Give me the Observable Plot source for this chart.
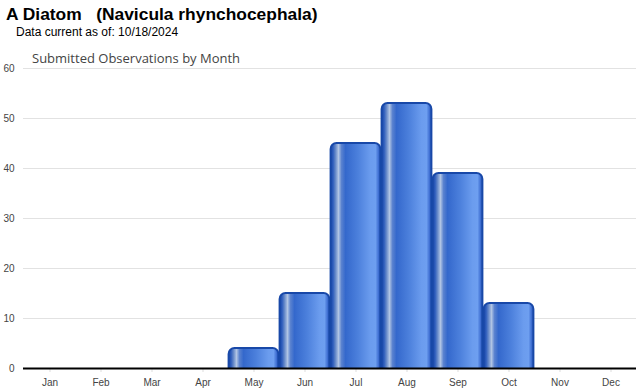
<!DOCTYPE html>
<html>
<head>
<meta charset="utf-8">
<script src="https://cdn.jsdelivr.net/npm/d3@7"></script>
<script src="https://cdn.jsdelivr.net/npm/@observablehq/plot@0.6"></script>
<style>
  html, body { margin: 0; padding: 0; background: #fff; }
  #wrap { position: relative; width: 640px; height: 390px; overflow: hidden; font-family: "Liberation Sans", Arial, sans-serif; }
  #title { position: absolute; left: 6px; top: 4px; font-size: 17.4px; font-weight: bold; color: #000; white-space: pre; }
  #sub { position: absolute; left: 16px; top: 25px; font-size: 12px; color: #000; }
  #ctitle { position: absolute; left: 32px; top: 49px; font-size: 13px; color: #444; font-family: "Open Sans", "DejaVu Sans", sans-serif; font-weight: 400; }
  #chart { position: absolute; left: 0; top: 48px; }
</style>
</head>
<body>
<div id="wrap">
  <div id="title">A Diatom   (Navicula rhynchocephala)</div>
  <div id="sub">Data current as of: 10/18/2024</div>
  <div id="chart"></div>
  <div id="ctitle">Submitted Observations by Month</div>
</div>
<script>
const months = ["Jan","Feb","Mar","Apr","May","Jun","Jul","Aug","Sep","Oct","Nov","Dec"];
const counts = [0, 0, 0, 0, 4, 15, 45, 53, 39, 13, 0, 0];
const yTicks = [0, 10, 20, 30, 40, 50, 60];

const data = months.map((m, i) => ({month: m, count: counts[i]}));
const bars = data.filter(d => d.count > 0);

const plot = Plot.plot({
  width: 640,
  height: 342,
  marginLeft: 23,
  marginRight: 4,
  marginTop: 20,
  marginBottom: 22,
  style: {fontFamily: "'Liberation Sans', Arial, sans-serif", fontSize: "10px", color: "#444", background: "transparent"},
  x: {domain: months, padding: 0, label: null, tickSize: 0},
  y: {domain: [0, 60], label: null},
  marks: [
    Plot.gridY(yTicks, {stroke: "#e2e2e2", strokeOpacity: 1}),
    Plot.axisY(yTicks, {tickSize: 0, tickPadding: 9, fill: "#444", fontSize: 10}),
    Plot.axisX({tickSize: 4, tickPadding: 6, stroke: "#ddd", fill: "#444", fontSize: 10}),
    Plot.barY(bars, {
      x: "month", y: "count",
      fill: "url(#barGrad)", stroke: "#1848a8", strokeWidth: 1.8,
      insetLeft: 0.5, insetRight: 0.5, insetBottom: -8, rx: 6, clip: true
    }),
    Plot.ruleY([0], {stroke: "#000", strokeWidth: 2})
  ]
});

const ns = "http://www.w3.org/2000/svg";
const defs = document.createElementNS(ns, "defs");
const grad = document.createElementNS(ns, "linearGradient");
grad.setAttribute("id", "barGrad");
grad.setAttribute("x1", "0"); grad.setAttribute("y1", "0");
grad.setAttribute("x2", "1"); grad.setAttribute("y2", "0");
const stops = [
  [0.00, "#1a47a4"], [0.05, "#2d5cbc"], [0.10, "#6689c9"], [0.16, "#b0c4e4"],
  [0.22, "#5a82cf"], [0.30, "#3468cc"], [0.55, "#4c80dc"], [0.80, "#6b9cee"],
  [0.90, "#6e9ff0"], [0.96, "#3f6fd2"], [1.00, "#1a47a4"]
];
for (const [o, c] of stops) {
  const s = document.createElementNS(ns, "stop");
  s.setAttribute("offset", o);
  s.setAttribute("stop-color", c);
  grad.appendChild(s);
}
defs.appendChild(grad);
plot.insertBefore(defs, plot.firstChild);
document.getElementById("chart").appendChild(plot);
</script>
</body>
</html>
